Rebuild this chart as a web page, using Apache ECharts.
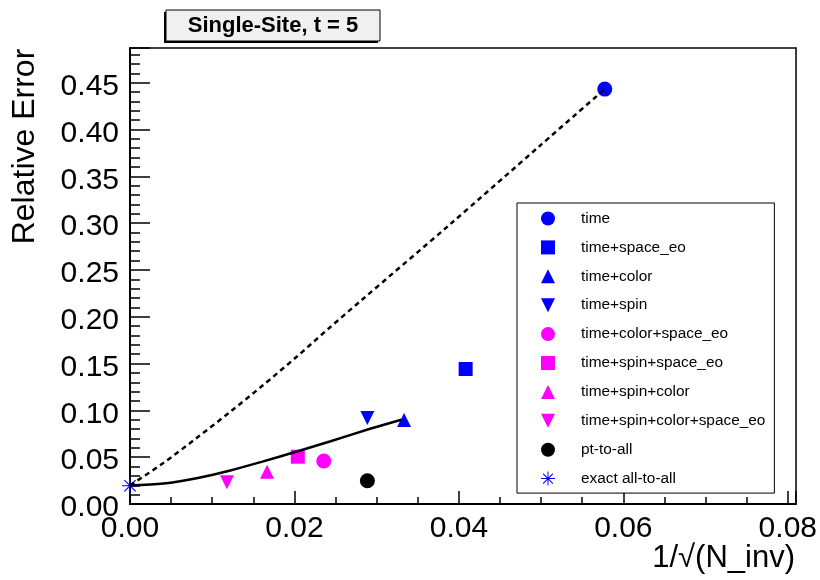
<!DOCTYPE html>
<html>
<head>
<meta charset="utf-8">
<script src="https://cdn.jsdelivr.net/npm/echarts@6/dist/echarts.min.js"></script>
<style>html,body{margin:0;padding:0;background:#fff}#c{width:820px;height:580px}</style>
</head>
<body>
<div id="c"></div>
<script>
// ---- data ----
const seriesNames = ['time', 'time+space_eo', 'time+color', 'time+spin',
  'time+color+space_eo', 'time+spin+space_eo', 'time+spin+color',
  'time+spin+color+space_eo', 'pt-to-all', 'exact all-to-all'];
const pointX = [0.05774, 0.04082, 0.03333, 0.02887, 0.02357, 0.02041, 0.01667, 0.01179, 0.02887, 0.0];
const pointY = [0.4431, 0.1442, 0.0897, 0.0919, 0.0459, 0.0505, 0.0345, 0.0232, 0.0249, 0.0195];

const dashedX = [0, 0.0041, 0.0081, 0.0122, 0.0162, 0.0203, 0.0243, 0.0280, 0.0389, 0.0499, 0.05774];
const dashedY = [0.0200, 0.0440, 0.0705, 0.0985, 0.1270, 0.1575, 0.1885, 0.2165, 0.2985, 0.3830, 0.4431];
const solidX = [0, 0.0041, 0.0081, 0.0122, 0.0162, 0.0203, 0.0243, 0.0292, 0.0330];
const solidY = [0.0200, 0.0219, 0.0275, 0.0358, 0.0455, 0.0560, 0.0668, 0.0803, 0.0900];

const xTickStep = 0.02, yTickStep = 0.05;
const titleText = 'Single-Site, t = 5';
const xTitle = '1/\u221A(N_inv)';
const yTitle = 'Relative Error';

// ---- styles ----
const FONT = '"Liberation Sans", Arial, Helvetica, sans-serif';
const BLUE = '#0000ff', MAG = '#ff00ff';
const asterisk = 'path://M-0.7,-10L0.7,-10L0.7,10L-0.7,10Z' +
  'M-10,-0.7L10,-0.7L10,0.7L-10,0.7Z' +
  'M-6.57,-7.57L7.57,6.57L6.57,7.57L-7.57,-6.57Z' +
  'M-7.57,6.57L6.57,-7.57L7.57,-6.57L-6.57,7.57Z';
const triDown = 'path://M0,0L10,0L5,10Z';
const mColors = [BLUE, BLUE, BLUE, BLUE, MAG, MAG, MAG, MAG, '#000000', BLUE];
const mSymbols = ['circle', 'rect', 'triangle', triDown, 'circle', 'rect', 'triangle', triDown, 'circle', asterisk];
const mSize = [15, 14, 14, 14, 15, 14, 14, 14, 15, 16];

const zip = (a, b) => a.map((v, i) => [v, b[i]]);
const fmt = (step, rich) => v => {
  const k = v / step;
  if (Math.abs(k - Math.round(k)) >= 1e-6) return '';
  return rich ? '{a|' + v.toFixed(2) + '}' : v.toFixed(2);
};

const scatter = seriesNames.map((n, i) => ({
  name: n, type: 'scatter', xAxisIndex: 0, yAxisIndex: 0,
  symbol: mSymbols[i], symbolSize: mSize[i], symbolKeepAspect: true,
  itemStyle: { color: mColors[i], opacity: 1 },
  data: [[pointX[i], pointY[i]]], z: 4, silent: true
}));

const chart = echarts.init(document.getElementById('c'), null, { renderer: 'canvas' });
chart.setOption({
  animation: false,
  backgroundColor: '#ffffff',
  grid: { left: 130, right: 23, top: 48, bottom: 76, show: true, borderColor: '#000', borderWidth: 1.5, backgroundColor: 'transparent' },
  xAxis: [
    { type: 'value', min: 0, max: 0.081, interval: xTickStep, position: 'bottom',
      axisLine: { show: true, onZero: false, lineStyle: { color: '#000', width: 2 } },
      axisTick: { show: true, inside: true, length: 13, lineStyle: { color: '#000', width: 1.5 } },
      splitLine: { show: false },
      axisLabel: { show: true, fontSize: 30, color: '#000', fontFamily: FONT, margin: 10, formatter: fmt(xTickStep, false) } },
    { type: 'value', min: 0, max: 0.081, interval: 0.005, position: 'bottom',
      axisLine: { show: false, onZero: false },
      axisTick: { show: true, inside: true, length: 7, lineStyle: { color: '#000', width: 1.5 } },
      splitLine: { show: false }, axisLabel: { show: false } }
  ],
  yAxis: [
    { type: 'value', min: 0, max: 0.487, interval: yTickStep, position: 'left',
      axisLine: { show: true, onZero: false, lineStyle: { color: '#000', width: 2 } },
      axisTick: { show: true, inside: true, length: 20, lineStyle: { color: '#000', width: 1.5 } },
      splitLine: { show: false },
      axisLabel: { show: true, fontSize: 30, color: '#000', fontFamily: FONT, margin: 11, formatter: fmt(yTickStep, true),
        rich: { a: { fontSize: 30, color: '#000', fontFamily: FONT, padding: [8, 0, 0, 0] } } } },
    { type: 'value', min: 0, max: 0.487, interval: 0.01, position: 'left', offset: 0,
      axisLine: { show: false, onZero: false },
      axisTick: { show: true, inside: true, length: 10, lineStyle: { color: '#000', width: 1.5 } },
      splitLine: { show: false }, axisLabel: { show: false } }
  ],
  legend: {
    orient: 'vertical', left: 517, top: 203, padding: [8, 9, 7, 24],
    itemWidth: 14, itemHeight: 14, itemGap: 13.9, symbolKeepAspect: true,
    borderColor: '#000', borderWidth: 1, backgroundColor: '#fff',
    textStyle: { fontSize: 15.4, color: '#000', fontFamily: FONT, lineHeight: 14, padding: [0, 0, 0, 21] },
    data: seriesNames, selectedMode: false
  },
  series: [
    ...scatter,
    { name: 'fit-dashed', type: 'line', xAxisIndex: 0, yAxisIndex: 0, data: zip(dashedX, dashedY),
      showSymbol: false, smooth: 0.3, z: 5, silent: true,
      lineStyle: { color: '#000', width: 2.5, type: [5, 4] } },
    { name: 'fit-solid', type: 'line', xAxisIndex: 0, yAxisIndex: 0, data: zip(solidX, solidY),
      showSymbol: false, smooth: 0.3, z: 5, silent: true,
      lineStyle: { color: '#000', width: 2.5, type: 'solid' } }
  ],
  graphic: [
    { type: 'rect', shape: { x: 164, y: 12, width: 214, height: 31 }, style: { fill: '#000' }, z: 10 },
    { type: 'rect', shape: { x: 166, y: 10, width: 214, height: 31 }, style: { fill: '#f0f0f0', stroke: '#000', lineWidth: 1 }, z: 11 },
    { type: 'text', x: 273, y: 26, z: 12,
      style: { text: titleText, align: 'center', verticalAlign: 'middle', fontSize: 22, fontWeight: 'bold', fontFamily: FONT, fill: '#000' } },
    { type: 'text', x: 795, y: 558, z: 12,
      style: { text: xTitle, align: 'right', verticalAlign: 'middle', fontSize: 31, fontFamily: FONT, fill: '#000' } },
    { type: 'text', x: 25, y: 146.5, rotation: Math.PI / 2, z: 12,
      style: { text: yTitle, align: 'center', verticalAlign: 'middle', fontSize: 32, fontFamily: FONT, fill: '#000' } }
  ]
});
</script>
</body>
</html>
